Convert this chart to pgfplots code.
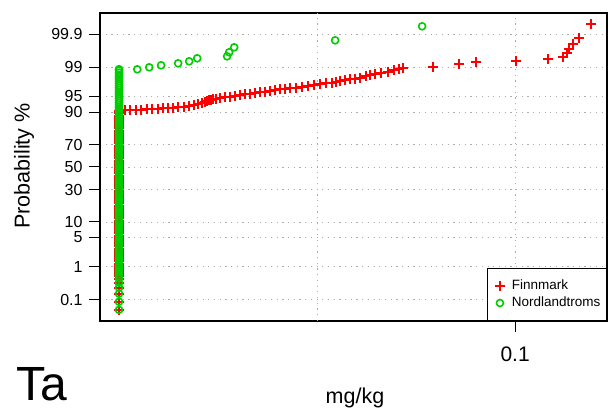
\documentclass[border=0pt]{standalone}
\usepackage{pgfplots}
\pgfplotsset{compat=1.18}
\usepackage{fontspec}
\setmainfont{Liberation Sans}
\definecolor{rred}{RGB}{255,0,0}
\definecolor{rgreen}{RGB}{0,205,0}
\begin{document}
\begin{tikzpicture}
\path[use as bounding box] (0bp,0bp) rectangle (609bp,415bp);
\begin{axis}[
  at={(100bp,94bp)}, anchor=south west,
  scale only axis, width=507bp, height=308bp,
  xmode=log, xmin=0.02339, xmax=0.1379,
  ymin=-3.59, ymax=3.59,
  xtick={0.1}, xticklabels={0.1}, minor xtick={},
  extra x ticks={0.05}, extra x tick labels={},
  extra x tick style={grid=major, major tick length=0pt},
  ytick={-3.0902,-2.3263,-1.6449,-1.2816,-0.5244,0,0.5244,1.2816,1.6449,2.3263,3.0902},
  yticklabels={0.1,1,5,10,30,50,70,90,95,99,99.9},
  xtick pos=left, ytick pos=left,
  tick align=outside, major tick length=11bp,
  tick style={black, line width=1bp},
  grid=major,
  grid style={gray!65, line width=0.8bp, dash pattern=on 1.2bp off 4.5bp},
  axis line style={line width=1.6bp},
  xticklabel style={font=\fontsize{21bp}{24bp}\selectfont, anchor=north, yshift=-11bp},
  yticklabel style={font=\fontsize{16bp}{19bp}\selectfont, xshift=-3bp},
  legend style={at={(1,0)}, anchor=south east, draw=black, line width=1bp,
    font=\fontsize{13.5bp}{16bp}\selectfont, inner xsep=4bp, inner ysep=9bp,
    nodes={inner sep=2bp, text height=10bp, text depth=3bp}, row sep=0bp},
  legend cell align=left,
  legend image code/.code={\path[draw=none] (0bp,0bp) -- (18bp,0bp);
    \draw[#1, only marks] plot coordinates {(8bp,0bp)};},
]
% Finnmark
\addplot[only marks, mark=+, mark size=5bp, rred, line width=2bp] table[row sep=\\] {
x y\\
0.025 -3.33\\ 0.025 -3.14\\ 0.025 -2.95\\ 0.025 -2.81\\ 0.025 -2.70\\
0.025 -2.60\\ 0.025 -2.55\\ 0.025 -2.50\\ 0.025 -2.45\\ 0.025 -2.40\\ 0.025 -2.35\\ 0.025 -2.30\\ 0.025 -2.25\\
0.025 -2.20\\ 0.025 -2.15\\ 0.025 -2.10\\ 0.025 -2.05\\ 0.025 -2.00\\ 0.025 -1.95\\ 0.025 -1.90\\ 0.025 -1.85\\
0.025 -1.80\\ 0.025 -1.75\\ 0.025 -1.70\\ 0.025 -1.65\\ 0.025 -1.60\\ 0.025 -1.55\\ 0.025 -1.50\\ 0.025 -1.45\\
0.025 -1.40\\ 0.025 -1.35\\ 0.025 -1.30\\ 0.025 -1.25\\ 0.025 -1.20\\ 0.025 -1.15\\ 0.025 -1.10\\ 0.025 -1.05\\
0.025 -1.00\\ 0.025 -0.95\\ 0.025 -0.90\\ 0.025 -0.85\\ 0.025 -0.80\\ 0.025 -0.75\\ 0.025 -0.70\\ 0.025 -0.65\\
0.025 -0.60\\ 0.025 -0.55\\ 0.025 -0.50\\ 0.025 -0.45\\ 0.025 -0.40\\ 0.025 -0.35\\ 0.025 -0.30\\ 0.025 -0.25\\
0.025 -0.20\\ 0.025 -0.15\\ 0.025 -0.10\\ 0.025 -0.05\\ 0.025 0.00\\ 0.025 0.05\\ 0.025 0.10\\ 0.025 0.15\\
0.025 0.20\\ 0.025 0.25\\ 0.025 0.30\\ 0.025 0.35\\ 0.025 0.40\\ 0.025 0.45\\ 0.025 0.50\\ 0.025 0.55\\
0.025 0.60\\ 0.025 0.65\\ 0.025 0.70\\ 0.025 0.75\\ 0.025 0.80\\ 0.025 0.85\\ 0.025 0.90\\ 0.025 0.95\\
0.025 1.00\\ 0.025 1.05\\ 0.025 1.10\\ 0.025 1.15\\ 0.025 1.20\\ 0.025 1.25\\ 0.025 1.30\\
0.02555 1.318\\ 0.0260 1.325\\ 0.02655 1.333\\ 0.0270 1.338\\ 0.02759 1.345\\ 0.02808 1.350\\
0.02867 1.357\\ 0.02917 1.368\\ 0.02969 1.372\\ 0.03021 1.380\\ 0.03075 1.392\\ 0.03141 1.398\\
0.03196 1.415\\ 0.03252 1.438\\ 0.03298 1.462\\ 0.03345 1.485\\ 0.0338 1.508\\ 0.03403 1.531\\
0.03428 1.555\\ 0.03451 1.566\\ 0.03475 1.578\\ 0.03512 1.590\\ 0.03562 1.601\\ 0.03625 1.625\\
0.03689 1.636\\ 0.03754 1.648\\ 0.03821 1.671\\ 0.03888 1.695\\ 0.03956 1.706\\ 0.04026 1.718\\
0.04097 1.741\\ 0.0417 1.753\\ 0.04243 1.765\\ 0.04318 1.788\\ 0.04394 1.811\\ 0.04471 1.823\\
0.0455 1.834\\ 0.04647 1.846\\ 0.04745 1.858\\ 0.04846 1.881\\ 0.04948 1.904\\ 0.05054 1.928\\
0.05161 1.951\\ 0.05271 1.963\\ 0.05346 1.986\\ 0.0542 1.998\\ 0.05516 2.021\\ 0.05613 2.044\\
0.05712 2.056\\ 0.05813 2.079\\ 0.05937 2.114\\ 0.0602 2.138\\ 0.06127 2.161\\ 0.06257 2.184\\
0.06412 2.219\\ 0.06548 2.254\\ 0.06664 2.277\\ 0.06758 2.301\\ 0.07505 2.324\\ 0.08222 2.394\\
0.08725 2.441\\ 0.1003 2.464\\ 0.1123 2.510\\ 0.1183 2.557\\ 0.1199 2.650\\ 0.1208 2.744\\
0.1225 2.860\\ 0.1251 3.000\\ 0.1305 3.326\\
};
\addlegendentry{Finnmark}
% Nordlandtroms
\addplot[only marks, mark=o, mark size=3.5bp, rgreen, line width=1.6bp] table[row sep=\\] {
x y\\
0.025 -3.33\\ 0.025 -3.14\\ 0.025 -2.95\\ 0.025 -2.81\\ 0.025 -2.70\\
0.025 -2.60\\ 0.025 -2.55\\ 0.025 -2.50\\ 0.025 -2.45\\ 0.025 -2.40\\ 0.025 -2.35\\ 0.025 -2.30\\ 0.025 -2.25\\
0.025 -2.20\\ 0.025 -2.15\\ 0.025 -2.10\\ 0.025 -2.05\\ 0.025 -2.00\\ 0.025 -1.95\\ 0.025 -1.90\\ 0.025 -1.85\\
0.025 -1.80\\ 0.025 -1.75\\ 0.025 -1.70\\ 0.025 -1.65\\ 0.025 -1.60\\ 0.025 -1.55\\ 0.025 -1.50\\ 0.025 -1.45\\
0.025 -1.40\\ 0.025 -1.35\\ 0.025 -1.30\\ 0.025 -1.25\\ 0.025 -1.20\\ 0.025 -1.15\\ 0.025 -1.10\\ 0.025 -1.05\\
0.025 -1.00\\ 0.025 -0.95\\ 0.025 -0.90\\ 0.025 -0.85\\ 0.025 -0.80\\ 0.025 -0.75\\ 0.025 -0.70\\ 0.025 -0.65\\
0.025 -0.60\\ 0.025 -0.55\\ 0.025 -0.50\\ 0.025 -0.45\\ 0.025 -0.40\\ 0.025 -0.35\\ 0.025 -0.30\\ 0.025 -0.25\\
0.025 -0.20\\ 0.025 -0.15\\ 0.025 -0.10\\ 0.025 -0.05\\ 0.025 0.00\\ 0.025 0.05\\ 0.025 0.10\\ 0.025 0.15\\
0.025 0.20\\ 0.025 0.25\\ 0.025 0.30\\ 0.025 0.35\\ 0.025 0.40\\ 0.025 0.45\\ 0.025 0.50\\ 0.025 0.55\\
0.025 0.60\\ 0.025 0.65\\ 0.025 0.70\\ 0.025 0.75\\ 0.025 0.80\\ 0.025 0.85\\ 0.025 0.90\\ 0.025 0.95\\
0.025 1.00\\ 0.025 1.05\\ 0.025 1.10\\ 0.025 1.15\\ 0.025 1.20\\ 0.025 1.25\\ 0.025 1.30\\ 0.025 1.35\\
0.025 1.40\\ 0.025 1.45\\ 0.025 1.50\\ 0.025 1.55\\ 0.025 1.60\\ 0.025 1.65\\ 0.025 1.70\\ 0.025 1.75\\
0.025 1.80\\ 0.025 1.85\\ 0.025 1.90\\ 0.025 1.95\\ 0.025 2.00\\ 0.025 2.05\\ 0.025 2.10\\ 0.025 2.15\\
0.025 2.20\\ 0.025 2.25\\ 0.025 2.28\\
0.02665 2.277\\ 0.02779 2.324\\ 0.02897 2.371\\ 0.03075 2.417\\ 0.03196 2.464\\ 0.03287 2.534\\
0.0365 2.580\\ 0.03676 2.674\\ 0.03741 2.790\\ 0.05326 2.953\\ 0.07222 3.280\\
};
\addlegendentry{Nordlandtroms}
\end{axis}
\node[anchor=center, font=\fontsize{21.5bp}{24bp}\selectfont] at (355bp,17bp) {mg/kg};
\node[anchor=center, rotate=90, font=\fontsize{21.5bp}{24bp}\selectfont] at (24bp,249bp) {Probability \%};
\node[anchor=base west, inner sep=0pt, font=\fontsize{48bp}{52bp}\selectfont] at (16bp,15bp) {Ta};
\end{tikzpicture}
\end{document}
